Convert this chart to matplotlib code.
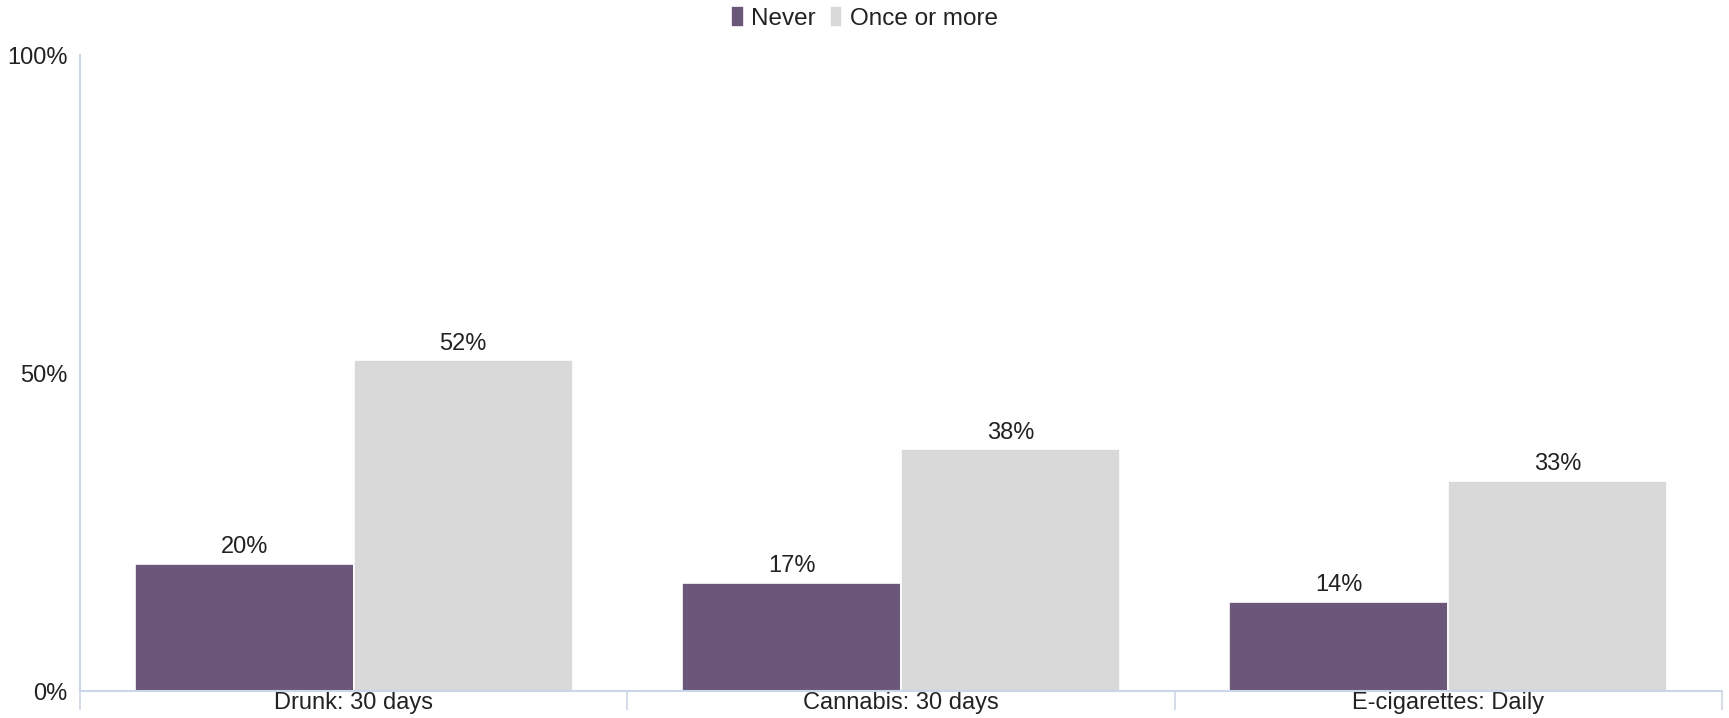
import matplotlib
matplotlib.use("Agg")
import matplotlib.pyplot as plt
import numpy as np

plt.rcParams['font.family'] = ['Liberation Sans', 'DejaVu Sans']

categories = ["Drunk: 30 days", "Cannabis: 30 days", "E-cigarettes: Daily"]
never = [20, 17, 14]
once_or_more = [52, 38, 33]
series_names = ["Never", "Once or more"]
colors = ["#6a5779", "#d9d9d9"]
axis_color = "#ccd6eb"
text_color = "#222222"

fig = plt.figure(figsize=(17.29, 7.18), dpi=100)
ax = fig.add_axes([80 / 1729, 1 - 691 / 718, (1722 - 80) / 1729, (691 - 55) / 718])

x = np.arange(len(categories))
w = 0.4
for i, (vals, name, col) in enumerate(zip([never, once_or_more], series_names, colors)):
    pos = x - 0.2 + i * w
    bars = ax.bar(pos, vals, width=w, color=col, edgecolor="white", linewidth=1.2, label=name, zorder=2)
    for b, v in zip(bars, vals):
        ax.text(b.get_x() + b.get_width() / 2, v + 0.9, f"{v}%", ha="center", va="bottom",
                fontsize=17, color=text_color)

ax.set_xlim(-0.5, len(categories) - 0.5)
ax.set_ylim(0, 100)
ax.set_yticks([0, 50, 100])
ax.set_yticklabels(["0%", "50%", "100%"])
ax.tick_params(axis="y", length=0, labelsize=17, labelcolor=text_color, pad=9)

# category labels at centers, tick marks at boundaries
ax.set_xticks(x)
ax.set_xticklabels(categories)
ax.tick_params(axis="x", which="major", length=0, labelsize=17, labelcolor=text_color, pad=1)
ax.set_xticks(np.arange(-0.5, len(categories)), minor=True)
ax.tick_params(axis="x", which="minor", length=14, width=1.2, color=axis_color)

for s in ["top", "right"]:
    ax.spines[s].set_visible(False)
for s in ["left", "bottom"]:
    ax.spines[s].set_color(axis_color)
    ax.spines[s].set_linewidth(1.5)

leg = fig.legend(loc="upper center", bbox_to_anchor=(0.5, 1.022), ncol=2, frameon=False,
                 fontsize=17.5, handlelength=0.5, handleheight=0.95, handletextpad=0.3,
                 columnspacing=0.6, labelcolor=text_color)

fig.savefig("out.png", dpi=100)
